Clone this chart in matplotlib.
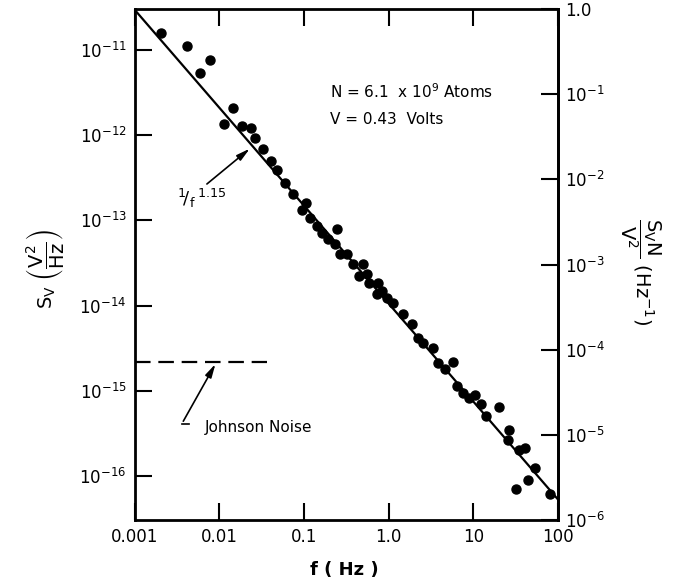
import matplotlib
matplotlib.use("Agg")
import matplotlib.pyplot as plt
import numpy as np

# measured 1/f noise spectrum (f in Hz, S_V in V^2/Hz)
freq = [0.00203, 0.00412, 0.00771, 0.00586, 0.0144, 0.0113, 0.0184, 0.0235,
        0.0262, 0.0326, 0.0406, 0.0477, 0.0593, 0.0738, 0.105, 0.0942,
        0.117, 0.142, 0.162, 0.244, 0.191, 0.231, 0.265, 0.321,
        0.378, 0.495, 0.445, 0.552, 0.583, 0.745, 0.726, 0.832,
        0.953, 1.12, 1.47, 1.88, 2.21, 2.54, 3.33, 3.82,
        4.61, 5.74, 6.40, 7.53, 8.87, 10.4, 12.3, 20.1,
        14.1, 26.4, 25.6, 34.6, 40.7, 53.5, 44.2, 31.9, 80.4]
sv = [1.58e-11, 1.11e-11, 7.6e-12, 5.4e-12, 2.09e-12, 1.36e-12, 1.28e-12, 1.22e-12,
      9.3e-13, 6.9e-13, 5.0e-13, 3.92e-13, 2.76e-13, 2.05e-13, 1.61e-13, 1.33e-13,
      1.07e-13, 8.6e-14, 7.2e-14, 8.0e-14, 6.1e-14, 5.3e-14, 4.06e-14, 4.06e-14,
      3.10e-14, 3.10e-14, 2.24e-14, 2.37e-14, 1.85e-14, 1.85e-14, 1.38e-14, 1.50e-14,
      1.21e-14, 1.08e-14, 8.0e-15, 6.1e-15, 4.2e-15, 3.67e-15, 3.21e-15, 2.14e-15,
      1.82e-15, 2.20e-15, 1.15e-15, 9.5e-16, 8.3e-16, 8.8e-16, 6.9e-16, 6.4e-16,
      5.1e-16, 3.41e-16, 2.61e-16, 1.99e-16, 2.10e-16, 1.22e-16, 8.9e-17, 7.1e-17, 6.2e-17]

# fitted power law  S = A / f^1.15
fit_amp = 1.05e-14
fit_exp = 1.15
fit_range = [1e-3, 1e2]

# Johnson noise level
johnson_level = 2.2e-15
johnson_range = [1e-3, 0.036]

n_atoms = 6.1e9
volts = 0.43
k = n_atoms / volts**2

xticks = [1e-3, 1e-2, 1e-1, 1, 10, 100]
xtick_labels = ["0.001", "0.01", "0.1", "1.0", "10", "100"]
yticks = [1e-16, 1e-15, 1e-14, 1e-13, 1e-12, 1e-11]
ytick_labels = [r"$10^{-16}$", r"$10^{-15}$", r"$10^{-14}$", r"$10^{-13}$", r"$10^{-12}$", r"$10^{-11}$"]
rticks = [1e-6, 1e-5, 1e-4, 1e-3, 1e-2, 1e-1, 1.0]
rtick_labels = [r"$10^{-6}$", r"$10^{-5}$", r"$10^{-4}$", r"$10^{-3}$", r"$10^{-2}$", r"$10^{-1}$", "1.0"]

plt.rcParams["mathtext.fontset"] = "dejavusans"
plt.rcParams["mathtext.default"] = "regular"
plt.rcParams["font.family"] = "DejaVu Sans"

fig = plt.figure(figsize=(6.95, 5.86), dpi=100)
ax = fig.add_axes([0.194, 0.1126, 0.609, 0.872])

ax.set_xscale("log")
ax.set_yscale("log")
ax.set_xlim(1e-3, 1e2)
# right axis (S_V N / V^2) runs from 1e-6 to 1.0
ax.set_ylim(0.999e-6 / k, 1.001 / k)

fx = np.logspace(np.log10(fit_range[0]), np.log10(fit_range[1]), 50)
ax.plot(fx, fit_amp * fx**(-fit_exp), color="black", lw=1.6)
ax.plot(freq, sv, "o", color="black", ms=6.5)
ax.plot(johnson_range, [johnson_level, johnson_level], color="black", lw=1.6,
        linestyle=(0, (7, 3.5)))

# annotations
ax.annotate("", xy=(0.0093, johnson_level), xytext=(0.0036, 4.1e-16),
            arrowprops=dict(arrowstyle="-|>,head_length=0.8,head_width=0.2",
                            color="black", lw=1.2))
ax.plot([0.0036, 0.0044], [4.1e-16, 4.1e-16], color="black", lw=1.2)
ax.text(0.0067, 3.7e-16, "Johnson Noise", fontsize=11, ha="left", va="center")

ax.annotate("", xy=(0.0242, 7.3e-13), xytext=(0.0067, 2.55e-13),
            arrowprops=dict(arrowstyle="-|>,head_length=0.8,head_width=0.2",
                            color="black", lw=1.2))
ax.text(0.00313, 1.79e-13, r"$^{1}\!/_{f}\,^{1.15}$", fontsize=13, ha="left", va="center")

ax.text(0.461, 0.838, r"N = 6.1  x $10^{9}$ Atoms", transform=ax.transAxes,
        fontsize=11, ha="left", va="center")
ax.text(0.461, 0.783, "V = 0.43  Volts", transform=ax.transAxes,
        fontsize=11, ha="left", va="center")

ax.set_xticks(xticks)
ax.set_xticklabels(xtick_labels)
ax.set_yticks(yticks)
ax.set_yticklabels(ytick_labels)
ax.xaxis.set_minor_locator(matplotlib.ticker.NullLocator())
ax.yaxis.set_minor_locator(matplotlib.ticker.NullLocator())
ax.tick_params(direction="in", length=12, width=1.5, top=True, right=False,
               labelsize=12, pad=6)
for s in ax.spines.values():
    s.set_linewidth(2)

secax = ax.secondary_yaxis("right", functions=(lambda s: s * k, lambda r: r / k))
secax.set_yticks(rticks)
secax.set_yticklabels(rtick_labels)
secax.yaxis.set_minor_locator(matplotlib.ticker.NullLocator())
secax.tick_params(direction="in", length=12, width=1.5, labelsize=12, pad=5)
secax.spines["right"].set_linewidth(2)

ax.set_xlabel("f ( Hz )", fontsize=13, fontweight="bold", va="center")
ax.xaxis.set_label_coords(0.496, -0.098)
ax.set_ylabel(r"$S_V\ \left(\dfrac{V^2}{Hz}\right)$", fontsize=14,
              ha="center", va="center")
ax.yaxis.set_label_coords(-0.213, 0.49)
fig.text(640 / 695, 1 - 272 / 586, r"$\dfrac{S_V N}{V^2}\ \left(Hz^{-1}\right)$",
         fontsize=14, rotation=270, ha="center", va="center", rotation_mode="anchor")

fig.savefig("out.png", dpi=100)
